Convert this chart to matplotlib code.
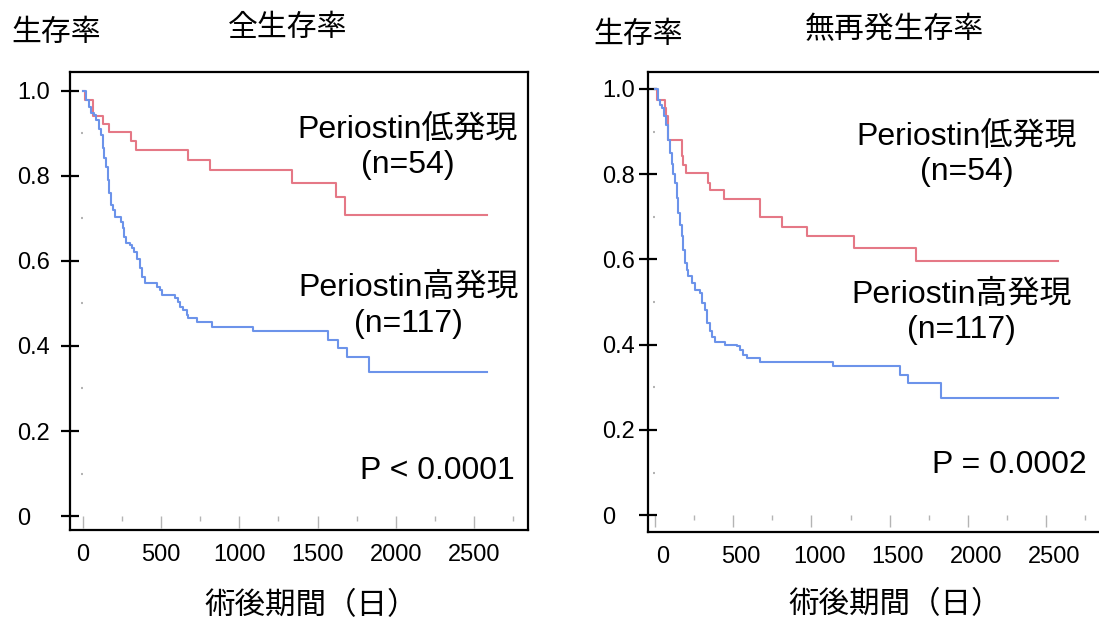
import matplotlib
matplotlib.use('Agg')
import matplotlib.pyplot as plt
from matplotlib.transforms import ScaledTranslation

# 字体：英文用 Arial 替代字体，日文回退到 Noto Sans CJK JP
plt.rcParams['font.family'] = ['Liberation Sans', 'Noto Sans CJK JP', 'DejaVu Sans']

# 全生存率 (OS)
os_low_t = [15, 68, 132, 170, 306, 340, 675, 813, 1339, 1617, 1675]
os_low_s = [0.978, 0.940, 0.921, 0.902, 0.882, 0.861, 0.837, 0.814, 0.782, 0.751, 0.708]
os_high_t = [20, 40, 55, 75, 88, 105, 118, 128, 138, 148, 160, 170, 180, 192, 204,
             245, 256, 266, 277, 300, 313, 330, 345, 366, 377, 398, 472, 494, 504,
             589, 611, 621, 643, 664, 675, 728, 824, 1090, 1568, 1632, 1690, 1830]
os_high_s = [0.978, 0.962, 0.947, 0.943, 0.931, 0.911, 0.896, 0.865, 0.841, 0.821,
             0.790, 0.759, 0.731, 0.720, 0.704, 0.692, 0.677, 0.657, 0.641, 0.637,
             0.630, 0.622, 0.605, 0.584, 0.563, 0.547, 0.539, 0.532, 0.520, 0.512,
             0.504, 0.492, 0.484, 0.473, 0.465, 0.457, 0.445, 0.434, 0.414, 0.394,
             0.375, 0.338]
os_end = 2580

# 無再発生存率 (RFS)
rfs_low_t = [10, 63, 70, 85, 170, 180, 198, 340, 351, 440, 673, 812, 971, 1271, 1668]
rfs_low_s = [0.975, 0.955, 0.936, 0.881, 0.842, 0.822, 0.803, 0.779, 0.763, 0.742,
             0.700, 0.677, 0.654, 0.626, 0.597]
rfs_high_t = [21, 31, 45, 58, 72, 85, 96, 106, 117, 127, 138, 149, 160, 170, 181,
              191, 202, 212, 234, 255, 287, 298, 319, 330, 351, 362, 383, 447, 522,
              543, 564, 585, 670, 1139, 1565, 1614, 1825]
rfs_high_s = [0.975, 0.963, 0.955, 0.936, 0.915, 0.881, 0.849, 0.825, 0.800, 0.779,
              0.745, 0.709, 0.680, 0.654, 0.622, 0.591, 0.575, 0.560, 0.544, 0.529,
              0.521, 0.497, 0.482, 0.450, 0.431, 0.419, 0.407, 0.400, 0.396, 0.388,
              0.376, 0.368, 0.360, 0.349, 0.329, 0.310, 0.274]
rfs_end = 2578

titles = ['全生存率', '無再発生存率']
ylabel = '生存率'
xlabel = '術後期間（日）'
low_label = 'Periostin低発現\n(n=54)'
high_label = 'Periostin高発現\n(n=117)'
p_texts = ['P < 0.0001', 'P = 0.0002']
xticks = [0, 500, 1000, 1500, 2000, 2500]
yticks = [0, 0.2, 0.4, 0.6, 0.8, 1.0]
ytick_labels = ['0', '0.2', '0.4', '0.6', '0.8', '1.0']

RED = '#e57886'
BLUE = '#6c93ea'
GREY = '#b4b4b4'

W, H = 1099, 623
fig = plt.figure(figsize=(W / 100, H / 100), dpi=100)


def km(ax, t, s, end, color):
    xs = [0] + t + [end]
    ys = [1.0] + s + [s[-1]]
    ax.step(xs, ys, where='post', color=color, lw=1.5)


def setup(ax, xlim, ylim, ypad):
    ax.set_xlim(*xlim)
    ax.set_ylim(*ylim)
    for sp in ax.spines.values():
        sp.set_linewidth(1.6)
        sp.set_color('black')
    ax.set_yticks(yticks)
    ax.set_yticklabels(ytick_labels)
    ax.tick_params(axis='y', direction='inout', length=13, width=1.6,
                   labelsize=17, pad=ypad)
    for lab in ax.get_yticklabels():
        lab.set_horizontalalignment('left')
    ax.set_xticks(xticks)
    ax.tick_params(axis='x', length=0, labelsize=17, pad=10)

    # 原点处的灰色刻度
    sx = ax.secondary_xaxis(0, transform=ax.transData)
    sx.spines['bottom'].set_visible(False)
    sx.set_xticks(xticks)
    sx.set_xticks([250, 750, 1250, 1750, 2250, 2750], minor=True)
    sx.set_xticklabels([])
    sx.tick_params(which='major', direction='out', length=8.5, width=1, color=GREY)
    sx.tick_params(which='minor', direction='out', length=3.5, width=1, color=GREY)

    sy = ax.secondary_yaxis(0, transform=ax.transData)
    sy.spines['left'].set_visible(False)
    sy.set_yticks([])
    sy.set_yticks([0.1, 0.3, 0.5, 0.7, 0.9], minor=True)
    sy.tick_params(which='minor', direction='out', length=1.5, width=1.5, color=GREY)


# 左图
ax1 = fig.add_axes([70 / W, 1 - 530 / H, 458 / W, 458 / H])
km(ax1, os_low_t, os_low_s, os_end, RED)
km(ax1, os_high_t, os_high_s, os_end, BLUE)
setup(ax1, (-81, 2844), (-0.0327, 1.044), 31.7)
ax1.text(2075, 0.866, low_label, ha='center', va='center', fontsize=23, linespacing=1.22)
ax1.text(2080, 0.494, high_label, ha='center', va='center', fontsize=23, linespacing=1.22)
ax1.text(2761, 0.106, p_texts[0], ha='right', va='center', fontsize=23)

# 右图
ax2 = fig.add_axes([648 / W, 1 - 531.7 / H, 458 / W, 459.7 / H])
km(ax2, rfs_low_t, rfs_low_s, rfs_end, RED)
km(ax2, rfs_high_t, rfs_high_s, rfs_end, BLUE)
setup(ax2, (-45, 2883), (-0.0387, 1.0397), 26.6)
ax2.text(1990, 0.846, low_label, ha='center', va='center', fontsize=23, linespacing=1.22)
ax2.text(1962, 0.476, high_label, ha='center', va='center', fontsize=23, linespacing=1.22)
ax2.text(1770, 0.118, p_texts[1], ha='left', va='center', fontsize=23)
# 右图的 x 刻度标签稍微偏右
shift = ScaledTranslation(8 / 100, 0, fig.dpi_scale_trans)
for lab in ax2.get_xticklabels():
    lab.set_transform(lab.get_transform() + shift)

# 标题与轴标签
fig.text(56 / W, 1 - 33 / H, ylabel, ha='center', va='center', fontsize=21.5)
fig.text(638 / W, 1 - 35 / H, ylabel, ha='center', va='center', fontsize=21.5)
fig.text(288 / W, 1 - 28 / H, titles[0], ha='center', va='center', fontsize=21.5)
fig.text(894 / W, 1 - 30 / H, titles[1], ha='center', va='center', fontsize=21.5)
fig.text(311 / W, 1 - 606 / H, xlabel, ha='center', va='center', fontsize=22)
fig.text(895 / W, 1 - 605 / H, xlabel, ha='center', va='center', fontsize=22)

fig.savefig('out.png', dpi=100)
